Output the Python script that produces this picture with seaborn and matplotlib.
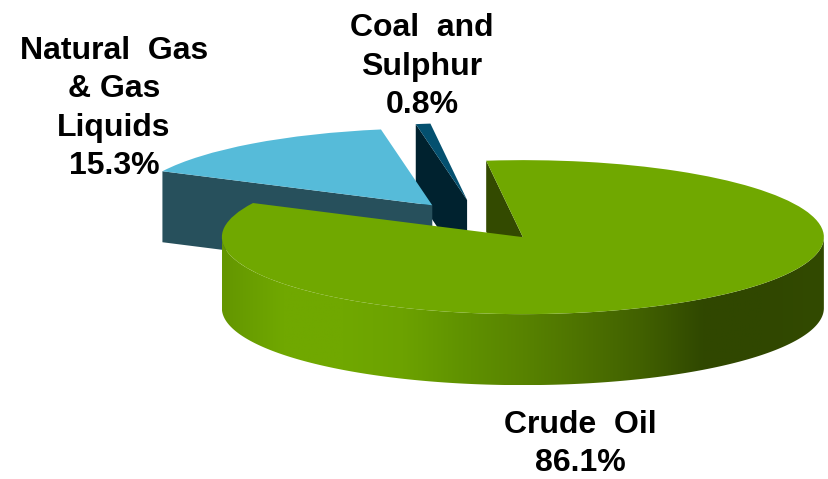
import numpy as np
import matplotlib
matplotlib.use("Agg")
import matplotlib.pyplot as plt
from matplotlib.patches import Polygon
import seaborn as sns

# ── DATA ──────────────────────────────────────────────────────────────────────
categories = ["Crude  Oil", "Natural  Gas\n& Gas\nLiquids", "Coal  and\nSulphur"]
shares = [86.1, 15.3, 0.8]

# ── STYLE ─────────────────────────────────────────────────────────────────────
sns.set_theme(style="white")
plt.rcParams["font.family"] = ["Liberation Sans", "DejaVu Sans"]

TOP_COLORS = ["#70A800", "#56BBD9", "#04506F"]
FACE_COLORS = ["#334A00", "#27505C", "#00222F"]
# rim shading of the big slice, left to right
RIM_STOPS = ["#649600", "#70A800", "#70A800", "#6CA200", "#609200", "#588300",
             "#4D7200", "#416000", "#304800", "#304700", "#324A00"]
EXPLODE = [0.249, 0.262, 0.282]
W, H = 829, 479
RX, RY = 301, 77        # pixels per pie radius, flattened
DEPTH = 71 / RY
OX, OY = 479.5, 221.5   # pie origin in pixels

fig = plt.figure(figsize=(W / 100, H / 100), dpi=100)
ax = fig.add_axes([0, 0, 1, 1])
wedges, _ = ax.pie(shares, explode=EXPLODE, colors=TOP_COLORS, startangle=97,
                   counterclock=False, radius=1, wedgeprops=dict(linewidth=0))

rim_cmap = sns.blend_palette(RIM_STOPS, as_cmap=True)

for i, (w, face) in enumerate(zip(wedges, FACE_COLORS)):
    z = 3 - i
    cx, cy = w.center

    # radial face on the edge turned towards the viewer
    ang = np.deg2rad(w.theta2)
    ex, ey = cx + np.cos(ang), cy + np.sin(ang)
    ax.fill([cx, ex, ex, cx], [cy, ey, ey - DEPTH, cy - DEPTH],
            color=face, lw=0, zorder=z)

    # outer rim, only the lower half of the ellipse shows
    lo, hi = max(w.theta1, -180), min(w.theta2, 0)
    if lo < hi:
        th = np.deg2rad(np.linspace(lo, hi, 300))
        xs = cx + np.cos(th)
        ys = cy + np.sin(th)
        outline = np.r_[np.c_[xs, ys], np.c_[xs[::-1], ys[::-1] - DEPTH]]
        grad = ax.imshow(np.linspace(0, 1, 256)[None, :], cmap=rim_cmap,
                         extent=(cx - 1, cx + 1, cy - 1 - DEPTH, cy + 1),
                         aspect="auto", zorder=z + 0.1)
        grad.set_clip_path(Polygon(outline, transform=ax.transData))

    w.set_zorder(z + 0.2)

# squash the pie so it lies flat
ax.set_aspect("auto")
ax.set_xlim(-OX / RX, (W - OX) / RX)
ax.set_ylim((OY - H) / RY, OY / RY)
ax.axis("off")

# ── LABELS ────────────────────────────────────────────────────────────────────
label_pos = [(580, 471), (114, 174), (422, 113)]
for name, val, (x, y) in zip(categories, shares, label_pos):
    fig.text(x / W, 1 - y / H, f"{name}\n{val}%", ha="center", va="baseline",
             fontsize=23, fontweight="bold", color="black", linespacing=1.36)

plt.savefig("out.png", dpi=100)
plt.close()
